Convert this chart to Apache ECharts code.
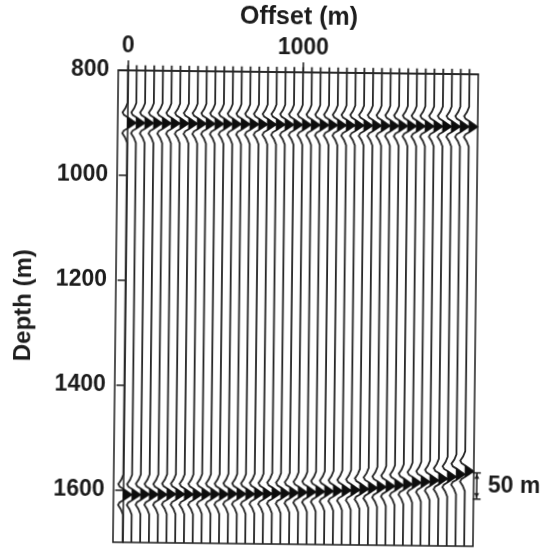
<!DOCTYPE html>
<html>
<head>
<meta charset="utf-8">
<script src="https://cdn.jsdelivr.net/npm/echarts@6/dist/echarts.min.js"></script>
<style>
  html, body { margin: 0; padding: 0; background: #ffffff; overflow: hidden; }
  #chart { width: 542px; height: 548px; transform: rotate(0.65deg); transform-origin: 50% 50%; }
</style>
</head>
<body>
<div id="chart"></div>
<script>
// ---- data ----
const traceOffsets = [0, 50, 100, 150, 200, 250, 300, 350, 400, 450,
  500, 550, 600, 650, 700, 750, 800, 850, 900, 950,
  1000, 1050, 1100, 1150, 1200, 1250, 1300, 1350, 1400, 1450,
  1500, 1550, 1600, 1650, 1700, 1750, 1800, 1850, 1900, 1950];
const reflector1Depth = [900, 900, 900, 900, 900, 900, 900, 900, 900, 900,
  900, 900, 900, 900, 900, 900, 900, 900, 900, 900,
  900, 900, 900, 900, 900, 900, 900, 900, 900, 900,
  900, 900, 900, 900, 900, 900, 900, 900, 900, 900];
const reflector2Depth = [1609, 1609, 1608, 1608, 1608, 1607, 1607, 1607, 1607, 1606,
  1606, 1606, 1605, 1605, 1605, 1604, 1604, 1603, 1603, 1602,
  1601, 1600, 1599, 1598, 1597, 1596, 1595, 1593, 1591, 1589,
  1587, 1585, 1583, 1580, 1578, 1575, 1572, 1568, 1563, 1557];
// wavelet (depth offset from reflector in m, horizontal deflection in m)
const waveletDz  = [-38, -28, -20, -15, -11, 0, 11, 15, 20, 28, 38];
const waveletAmp = [0, -12, -28, -20, 0, 48, 0, -20, -28, -12, 0];
const peakFrom = 4, peakTo = 6;
const xTickLabels = [0, 1000];
const yTickLabels = [800, 1000, 1200, 1400, 1600];
const depthMin = 800, depthMax = 1700, offsetMin = -55, offsetMax = 2000;
const traceTop = 790;
const scaleBar = [[2018, 1560, 1610]];
const scaleBarLabel = '50 m';

const traceData = traceOffsets.map((o, i) => [o, reflector1Depth[i], reflector2Depth[i]]);

const FONT = '"Liberation Sans", Arial, Helvetica, sans-serif';
const INK = '#1c1c1c';

function renderTrace(params, api) {
  const x0 = api.value(0);
  const refl = [api.value(1), api.value(2)];
  const pts = [api.coord([x0, traceTop])];
  const children = [];
  refl.forEach(d => {
    const poly = [];
    for (let k = 0; k < waveletDz.length; k++) {
      const p = api.coord([x0 + waveletAmp[k], d + waveletDz[k]]);
      pts.push(p);
      if (k >= peakFrom && k <= peakTo) poly.push(p);
    }
    children.push({
      type: 'polygon',
      shape: { points: poly },
      style: { fill: '#0d0d0d', stroke: '#0d0d0d', lineWidth: 0.8 }
    });
  });
  pts.push(api.coord([x0, depthMax]));
  children.unshift({
    type: 'polyline',
    shape: { points: pts },
    style: { stroke: '#262626', lineWidth: 1.8, fill: null }
  });
  return { type: 'group', children };
}

function renderScale(params, api) {
  const x = api.value(0);
  const top = api.coord([x, api.value(1)]);
  const bot = api.coord([x, api.value(2)]);
  const cap = 4;
  return {
    type: 'group',
    children: [
      { type: 'line', shape: { x1: top[0], y1: top[1], x2: bot[0], y2: bot[1] }, style: { stroke: INK, lineWidth: 1.5 } },
      { type: 'line', shape: { x1: top[0] - cap, y1: top[1], x2: top[0] + cap, y2: top[1] }, style: { stroke: INK, lineWidth: 1.5 } },
      { type: 'line', shape: { x1: bot[0] - cap, y1: bot[1], x2: bot[0] + cap, y2: bot[1] }, style: { stroke: INK, lineWidth: 1.5 } },
      { type: 'polygon', shape: { points: [[top[0], top[1] + 1], [top[0] - 2.5, top[1] + 6], [top[0] + 2.5, top[1] + 6]] }, style: { fill: INK } },
      { type: 'polygon', shape: { points: [[bot[0], bot[1] - 1], [bot[0] - 2.5, bot[1] - 6], [bot[0] + 2.5, bot[1] - 6]] }, style: { fill: INK } },
      { type: 'text', x: top[0] + 11, y: (top[1] + bot[1]) / 2,
        style: { text: scaleBarLabel, font: 'bold 23px ' + FONT, fill: INK, verticalAlign: 'middle', align: 'left' } }
    ]
  };
}

const chart = echarts.init(document.getElementById('chart'), null, { renderer: 'canvas' });
chart.setOption({
  animation: false,
  backgroundColor: '#ffffff',
  grid: { left: 116, right: 66, top: 69, bottom: 4, show: true, borderColor: INK, borderWidth: 1.5, backgroundColor: 'transparent' },
  xAxis: {
    type: 'value', position: 'top', min: offsetMin, max: offsetMax,
    name: 'Offset (m)', nameLocation: 'middle', nameGap: 42,
    nameTextStyle: { fontFamily: FONT, fontWeight: 'bold', fontSize: 25, color: INK },
    axisLine: { show: true, lineStyle: { color: INK, width: 1.5 } },
    axisTick: { show: true, length: 10, customValues: xTickLabels, lineStyle: { color: INK, width: 1.5 } },
    axisLabel: { show: true, customValues: xTickLabels, margin: 13, fontFamily: FONT, fontWeight: 'bold', fontSize: 23, color: INK,
      formatter: v => String(v) },
    splitLine: { show: false }
  },
  yAxis: {
    type: 'value', inverse: true, min: depthMin, max: depthMax,
    name: 'Depth (m)', nameLocation: 'middle', nameGap: 80,
    nameTextStyle: { fontFamily: FONT, fontWeight: 'bold', fontSize: 24, color: INK },
    axisLine: { show: true, lineStyle: { color: INK, width: 1.5 } },
    axisTick: { show: true, length: 8, customValues: yTickLabels, lineStyle: { color: INK, width: 1.5 } },
    axisLabel: { show: true, customValues: yTickLabels, margin: 9, fontFamily: FONT, fontWeight: 'bold', fontSize: 23, color: INK,
      formatter: v => String(v) },
    splitLine: { show: false }
  },
  series: [
    { type: 'custom', coordinateSystem: 'cartesian2d', clip: false, silent: true,
      encode: { x: 0, y: 1 }, data: traceData, renderItem: renderTrace },
    { type: 'custom', coordinateSystem: 'cartesian2d', clip: false, silent: true,
      encode: { x: 0, y: 1 }, data: scaleBar, renderItem: renderScale }
  ]
});
</script>
</body>
</html>
